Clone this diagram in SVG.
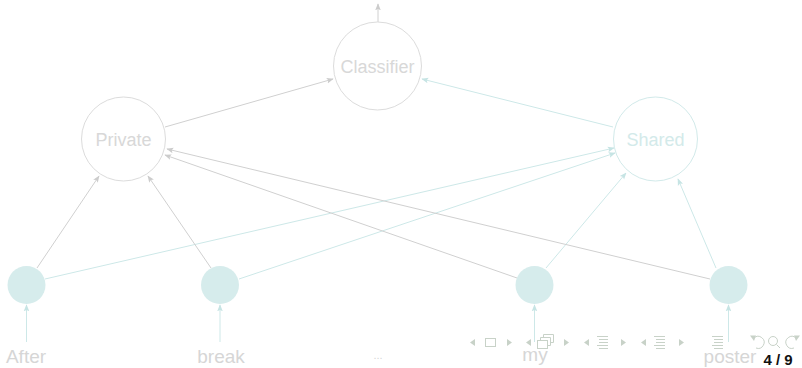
<svg xmlns="http://www.w3.org/2000/svg" width="802" height="368" viewBox="0 0 802 368">
<defs>
<marker id="ag" viewBox="0 0 10 10" refX="9" refY="5" markerWidth="7" markerHeight="7" orient="auto" markerUnits="userSpaceOnUse"><path d="M0,1 L10,5 L0,9 L2,5 Z" fill="#cccccc"/></marker>
<marker id="at" viewBox="0 0 10 10" refX="9" refY="5" markerWidth="7" markerHeight="7" orient="auto" markerUnits="userSpaceOnUse"><path d="M0,1 L10,5 L0,9 L2,5 Z" fill="#c6e4e4"/></marker>
<style>
.g{stroke:#d0d0d0;stroke-width:1;fill:none}
.t{stroke:#cde8e8;stroke-width:1;fill:none}
.ng{fill:#fff;stroke:#dcdcdc;stroke-width:1}
.nt{fill:#fff;stroke:#d2eaea;stroke-width:1}
.f{fill:#d6ecec}
.lbl{font-family:"Liberation Sans",Arial,sans-serif;font-size:18px;fill:#d8d8d8;text-anchor:middle}
.lblt{font-family:"Liberation Sans",Arial,sans-serif;font-size:18px;fill:#d3eaea;text-anchor:middle}
.w{font-family:"Liberation Sans",Arial,sans-serif;font-size:19px;fill:#d6d6d6;text-anchor:middle}
.nav{fill:#c8d2c8}
.navs{stroke:#c8d2c8;fill:none;stroke-width:1}
</style>
</defs>
<g id="connectors">
<line class="g" x1="378" y1="22" x2="378" y2="4" marker-end="url(#ag)"/>
<line class="g" x1="165" y1="127" x2="333" y2="79" marker-end="url(#ag)"/>
<line class="t" x1="613" y1="127" x2="422" y2="79" marker-end="url(#at)"/>
<line class="g" x1="37" y1="268" x2="99" y2="176" marker-end="url(#ag)"/>
<line class="t" x1="45" y1="279" x2="614" y2="148" marker-end="url(#at)"/>
<line class="g" x1="211" y1="268" x2="148" y2="176" marker-end="url(#ag)"/>
<line class="t" x1="239" y1="279" x2="615" y2="153" marker-end="url(#at)"/>
<line class="g" x1="517" y1="278" x2="165" y2="155" marker-end="url(#ag)"/>
<line class="t" x1="546" y1="268" x2="626" y2="173" marker-end="url(#at)"/>
<line class="g" x1="710" y1="279" x2="167" y2="149" marker-end="url(#ag)"/>
<line class="t" x1="716" y1="268" x2="678" y2="179" marker-end="url(#at)"/>
<line class="t" x1="26.5" y1="342" x2="26.5" y2="305" marker-end="url(#at)"/>
<line class="t" x1="220" y1="342" x2="220" y2="305" marker-end="url(#at)"/>
<line class="t" x1="534.5" y1="342" x2="534.5" y2="305" marker-end="url(#at)"/>
<line class="t" x1="728.5" y1="342" x2="728.5" y2="305" marker-end="url(#at)"/>
</g>
<g id="classifier"><circle class="ng" cx="377.5" cy="66" r="44"/><text class="lbl" x="377.5" y="73">Classifier</text></g>
<g id="private"><circle class="ng" cx="123.5" cy="139" r="42"/><text class="lbl" x="123.5" y="146">Private</text></g>
<g id="shared"><circle class="nt" cx="655.5" cy="139" r="42"/><text class="lblt" x="655.5" y="146">Shared</text></g>
<g id="h-after"><circle class="f" cx="26.5" cy="285" r="19"/></g>
<g id="h-break"><circle class="f" cx="220" cy="285" r="19"/></g>
<g id="h-my"><circle class="f" cx="534.5" cy="285" r="19"/></g>
<g id="h-poster"><circle class="f" cx="728.5" cy="285" r="19"/></g>
<g id="words">
<text class="w" x="26" y="363">After</text>
<text class="w" x="221" y="363">break</text>
<text class="w" x="378" y="359" style="font-size:11px">...</text>
<text class="w" x="535" y="361">my</text>
<text class="w" x="730" y="363">poster</text>
</g>
<g id="navigation">
<path class="nav" d="M470,342.5 L475,339 L475,346 Z"/>
<rect class="navs" x="485.5" y="338.5" width="10" height="8"/>
<path class="nav" d="M512,342.5 L507,339 L507,346 Z"/>
<path class="nav" d="M526,342.5 L531,339 L531,346 Z"/>
<rect class="navs" x="537.5" y="340.5" width="10" height="8"/>
<path class="navs" d="M540.5,340.5 V337.5 H550.5 V345.5 H547.5 M543.5,337.5 V334.5 H553.5 V342.5 H550.5"/>
<path class="nav" d="M569,342.5 L564,339 L564,346 Z"/>
<path class="nav" d="M584,342.5 L589,339 L589,346 Z"/>
<path class="navs" d="M597,336.5 H608 M599,339.5 H608 M599,342.5 H608 M597,345.5 H608 M599,348.5 H608"/>
<path class="nav" d="M626,342.5 L621,339 L621,346 Z"/>
<path class="nav" d="M641,342.5 L646,339 L646,346 Z"/>
<path class="navs" d="M654,336.5 H665 M656,339.5 H665 M656,342.5 H665 M654,345.5 H665 M656,348.5 H665"/>
<path class="nav" d="M684,342.5 L679,339 L679,346 Z"/>
<path class="navs" d="M712,336.5 H723 M714,339.5 H723 M714,342.5 H723 M712,345.5 H723 M714,348.5 H723"/>
<path class="navs" d="M754,338 A6,6 0 1 1 756,348"/>
<path class="nav" d="M750,335.5 L756,335.5 L754,341 Z"/>
<circle class="navs" cx="773" cy="341" r="4.5"/>
<line class="navs" x1="776.5" y1="344.5" x2="780" y2="348"/>
<path class="navs" d="M796,338 A6,6 0 1 0 794,348"/>
<path class="nav" d="M800,335.5 L794,335.5 L796,341 Z"/>
</g>
<text x="778" y="365" style="font-family:'Liberation Sans',Arial,sans-serif;font-size:15px;font-weight:bold;fill:#111" text-anchor="middle">4 / 9</text>
</svg>
